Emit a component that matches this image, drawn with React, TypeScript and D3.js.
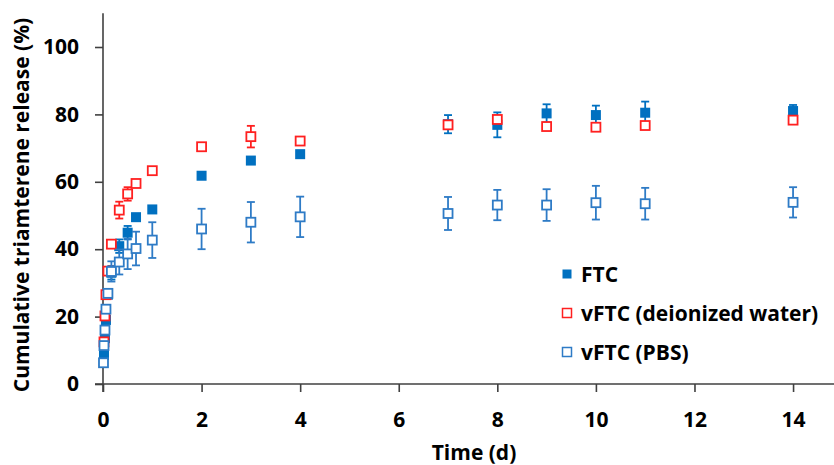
import React, { useEffect, useRef } from "react";
import * as d3 from "d3";

// sampling times (days)
const times = [0.01, 0.02, 0.04, 0.06, 0.1, 0.17, 0.33, 0.5, 0.67, 1, 2, 3, 4, 7, 8, 9, 10, 11, 14];

// FTC (filled blue)
const ftc = [null, 8.6, 13.6, 19.0, 26.5, 33.0, 40.9, 44.9, 49.5, 51.8, 61.8, 66.3, 68.2, 77.1, 76.9, 80.3, 79.8, 80.5, 81.0];
const ftcErr = [null, 0.8, 1, 1, 1.5, 2, 2, 2, 1.5, 1, 0.8, 0.8, 0.8, 2.7, 3.7, 2.7, 2.8, 3.3, 1.8];

// vFTC in deionized water (open red)
const water = [null, 12.5, 20.2, 26.5, 33.5, 41.5, 51.6, 56.4, 59.5, 63.3, 70.4, 73.4, 72.1, 76.9, 78.5, 76.4, 76.2, 76.7, 78.3];
const waterErr = [null, 0.5, 0.8, 1, 1, 1, 2.5, 2, 1.5, 1.5, 0.8, 3.2, 1.5, 1.5, 1.2, 1, 0.8, 0.8, 0.8];

// vFTC in PBS (open blue)
const pbs = [6.3, 11.4, 16.0, 22.2, 26.9, 33.4, 36.2, 38.6, 40.2, 42.7, 46.0, 48.0, 49.6, 50.6, 53.1, 53.1, 53.8, 53.5, 53.9];
const pbsErr = [0.5, 0.5, 0.8, 1, 1.5, 3, 3.7, 4.5, 5, 5.3, 6, 6, 6, 4.9, 4.5, 4.7, 5, 4.7, 4.5];

const xTicks = [0, 2, 4, 6, 8, 10, 12, 14];
const yTicks = [0, 20, 40, 60, 80, 100];
const seriesNames = ["FTC", "vFTC (deionized water)", "vFTC (PBS)"];

const W = 834;
const H = 465;
const FONT = "'Open Sans', sans-serif";

export default function App() {
  const ref = useRef<SVGSVGElement>(null);

  useEffect(() => {
    const svg = d3.select(ref.current);
    svg.selectAll("*").remove();

    const x = d3.scaleLinear().domain([0, 15]).range([103, 103 + 15 * 49.29]);
    const y = d3.scaleLinear().domain([0, 110]).range([384, 384 - 110 * 3.37]);

    const series = [
      { name: seriesNames[0], vals: ftc, errs: ftcErr, color: "#0070C0", filled: true },
      { name: seriesNames[1], vals: water, errs: waterErr, color: "#FF2020", filled: false },
      { name: seriesNames[2], vals: pbs, errs: pbsErr, color: "#2E7BC6", filled: false },
    ];

    // axes
    const yAxis = d3.axisLeft(y).tickValues(yTicks).tickSize(8).tickPadding(16).tickSizeOuter(0);
    const xAxis = d3.axisBottom(x).tickValues(xTicks).tickSize(8).tickPadding(20).tickSizeOuter(0);

    svg.append("g")
      .attr("transform", `translate(0,${y(0)})`)
      .call(xAxis)
      .call(g => g.select(".domain").attr("d", `M${x(0) - 8},0H${W + 10}`))
      .call(g => g.selectAll("line, path").attr("stroke", "#404040").attr("stroke-width", 1.6))
      .call(g => g.selectAll("text")
        .attr("font-family", FONT).attr("font-weight", 700).attr("font-size", 21).attr("fill", "#000"));

    svg.append("g")
      .attr("transform", `translate(${x(0)},0)`)
      .call(yAxis)
      .call(g => g.select(".domain").attr("d", `M0,${y(0) + 8}V${y(110)}`))
      .call(g => g.selectAll("line, path").attr("stroke", "#404040").attr("stroke-width", 1.6))
      .call(g => g.selectAll("text")
        .attr("font-family", FONT).attr("font-weight", 700).attr("font-size", 21).attr("fill", "#000"));

    // axis titles
    svg.append("text")
      .attr("x", 474).attr("y", 460)
      .attr("text-anchor", "middle")
      .attr("font-family", FONT).attr("font-weight", 700).attr("font-size", 21)
      .text("Time (d)");

    svg.append("text")
      .attr("transform", `translate(29,205) rotate(-90)`)
      .attr("text-anchor", "middle")
      .attr("font-family", FONT).attr("font-weight", 700).attr("font-size", 21)
      .text("Cumulative triamterene release (%)");

    // points with error bars
    series.forEach(s => {
      const idx = d3.range(times.length).filter(i => s.vals[i] != null);
      const g = svg.append("g");
      const eb = g.append("g").attr("stroke", s.color).attr("stroke-width", 1.8).attr("fill", "none");
      idx.forEach(i => {
        const cx = x(times[i]);
        const v = s.vals[i] as number;
        const e = (s.errs[i] as number) || 0;
        const y1 = y(v + e), y2 = y(v - e);
        if (y2 - y1 < 11) return;
        eb.append("line").attr("x1", cx).attr("x2", cx).attr("y1", y1).attr("y2", y2);
        eb.append("line").attr("x1", cx - 4).attr("x2", cx + 4).attr("y1", y1).attr("y2", y1);
        eb.append("line").attr("x1", cx - 4).attr("x2", cx + 4).attr("y1", y2).attr("y2", y2);
      });
      g.selectAll("rect.pt")
        .data(idx)
        .join("rect")
        .attr("class", "pt")
        .attr("x", i => x(times[i]) - (s.filled ? 5 : 4.5))
        .attr("y", i => y(s.vals[i] as number) - (s.filled ? 5 : 4.5))
        .attr("width", s.filled ? 10 : 9)
        .attr("height", s.filled ? 10 : 9)
        .attr("fill", s.filled ? s.color : "#fff")
        .attr("stroke", s.filled ? "none" : s.color)
        .attr("stroke-width", 1.8);
    });

    // legend
    const legY = [274, 313, 352];
    series.forEach((s, k) => {
      svg.append("rect")
        .attr("x", 562.5).attr("y", legY[k] - 4.5)
        .attr("width", 9).attr("height", 9)
        .attr("fill", s.filled ? s.color : "#fff")
        .attr("stroke", s.filled ? "none" : s.color)
        .attr("stroke-width", 1.5);
      svg.append("text")
        .attr("x", 581).attr("y", legY[k])
        .attr("dy", "0.36em")
        .attr("font-family", FONT).attr("font-weight", 700).attr("font-size", 21)
        .text(s.name);
    });
  }, []);

  return (
    <svg
      ref={ref}
      width={W}
      height={H}
      viewBox={`0 0 ${W} ${H}`}
      style={{ position: "absolute", left: 0, top: 0, background: "#fff" }}
    />
  );
}
